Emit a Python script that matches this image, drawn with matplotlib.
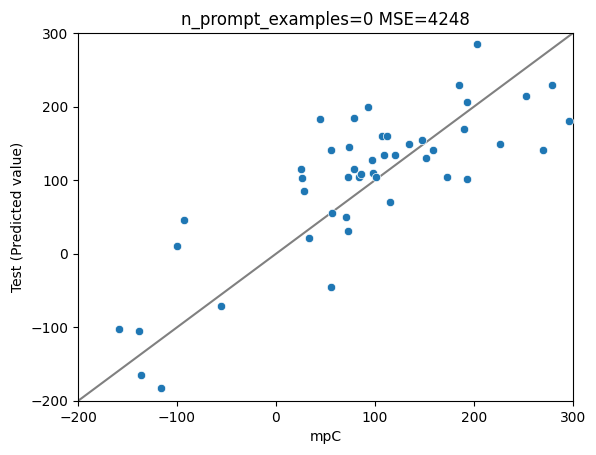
import matplotlib
matplotlib.use("Agg")
import matplotlib.pyplot as plt
import seaborn as sns
import pandas as pd

# Valores
mpc = [-159, -138, -136, -116, -100, -93, -56,
       93, 45, 79, 107, 112, 134, 148, 159, 152, 56, 74, 97, 109, 120,
       25, 26, 28, 79, 73, 84, 86, 98, 101, 115, 57, 71, 73, 33, 56,
       203, 185, 193, 279, 253, 296, 190, 226, 270, 173, 193]
previsto = [-102, -105, -165, -182, 11, 46, -71,
            200, 183, 185, 160, 160, 150, 155, 141, 130, 141, 145, 128, 135, 135,
            115, 103, 85, 115, 105, 105, 108, 110, 105, 70, 55, 50, 31, 21, -45,
            286, 230, 206, 230, 215, 180, 170, 150, 141, 105, 102]

titulo = "n_prompt_examples=0 MSE=4248"
limites = [-200, 300]

df = pd.DataFrame({"mpC": mpc, "Test (Predicted value)": previsto})

fig = plt.figure(figsize=(5.96, 4.55), dpi=100)
ax = fig.add_axes([0.131, 0.119, 0.830, 0.808])

sns.scatterplot(data=df, x="mpC", y="Test (Predicted value)", ax=ax, zorder=3)
ax.plot(limites, limites, color="gray", zorder=2)

ax.set_xlim(limites)
ax.set_ylim(limites)
ax.set_title(titulo)

fig.savefig("out.png", dpi=100)
